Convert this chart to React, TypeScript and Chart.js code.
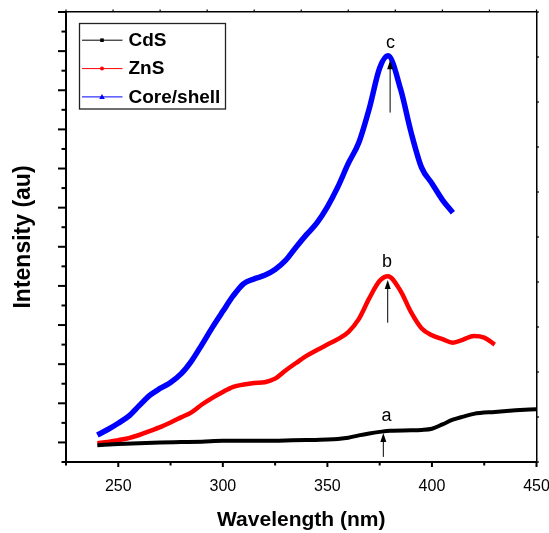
import React, { useEffect, useRef } from 'react';
import { Chart, registerables } from 'chart.js';

Chart.register(...registerables);

const FONT = '"Liberation Sans", Arial, Helvetica, sans-serif';

// ---- data ----
const seriesLabels = ['CdS', 'ZnS', 'Core/shell'];

const cdsX = [240, 250, 260, 270, 280, 290, 300, 310, 320, 330, 340, 350, 355, 360, 365, 370, 375, 380, 390, 395, 400, 405, 410, 415, 420, 430, 440, 450];
const cdsY = [-0.07, -0.04, -0.02, 0.0, 0.01, 0.02, 0.04, 0.04, 0.04, 0.05, 0.06, 0.075, 0.09, 0.12, 0.18, 0.23, 0.27, 0.30, 0.31, 0.32, 0.35, 0.46, 0.58, 0.66, 0.73, 0.78, 0.82, 0.85];

const znsX = [240, 245, 250, 255, 260, 265, 270, 275, 280, 285, 290, 295, 300, 305, 310, 315, 320, 325, 330, 335, 340, 345, 350, 355, 360, 365, 370, 375, 379, 385, 390, 395, 400, 405, 410, 415, 420, 425, 430];
const znsY = [-0.02, 0.01, 0.06, 0.11, 0.19, 0.29, 0.39, 0.51, 0.64, 0.77, 0.97, 1.14, 1.29, 1.42, 1.48, 1.52, 1.54, 1.63, 1.84, 2.03, 2.21, 2.36, 2.5, 2.64, 2.82, 3.15, 3.68, 4.13, 4.25, 3.87, 3.33, 2.92, 2.74, 2.64, 2.55, 2.63, 2.72, 2.68, 2.5];

const coreX = [240, 245, 250, 255, 260, 265, 270, 275, 280, 285, 290, 295, 300, 305, 310, 315, 320, 325, 330, 335, 340, 345, 350, 355, 360, 365, 370, 375, 379, 385, 390, 395, 400, 405, 410];
const coreY = [0.19, 0.33, 0.49, 0.67, 0.94, 1.2, 1.38, 1.53, 1.75, 2.08, 2.5, 2.94, 3.35, 3.75, 4.06, 4.18, 4.27, 4.42, 4.65, 4.99, 5.31, 5.61, 6.02, 6.53, 7.13, 7.66, 8.53, 9.57, 9.88, 9.03, 7.93, 7.03, 6.62, 6.2, 5.87];

const xTickLabels = [250, 300, 350, 400, 450];

const noteLabels = ['a', 'b', 'c'];
const noteX = [378.3, 378.5, 380.2];
const noteY = [0.55, 4.48, 10.07];
const arrowX = [376.75, 378.85, 380];
const arrowFrom = [-0.37, 3.06, 8.43];
const arrowTo = [0.24, 4.15, 9.77];

const toPoints = (xs: number[], ys: number[]) => xs.map((x, i) => ({ x, y: ys[i] }));

const tickPlugin = {
  id: 'customTicks',
  afterDraw(chart: any) {
    const ctx = chart.ctx;
    const { x, y, x2, y2 } = chart.scales;
    const a = chart.chartArea;
    ctx.save();
    ctx.strokeStyle = '#000';
    // left ticks
    ctx.lineWidth = 2;
    y.ticks.forEach((t: any) => {
      const py = y.getPixelForValue(t.value);
      const len = Number.isInteger(t.value) ? 8 : 4.5;
      ctx.beginPath();
      ctx.moveTo(a.left, py);
      ctx.lineTo(a.left - len, py);
      ctx.stroke();
    });
    // bottom ticks
    x.ticks.forEach((t: any) => {
      const px = x.getPixelForValue(t.value);
      const len = t.value % 50 === 0 ? 5 : 3.5;
      ctx.beginPath();
      ctx.moveTo(px, a.bottom);
      ctx.lineTo(px, a.bottom + len);
      ctx.stroke();
    });
    // top ticks
    ctx.lineWidth = 1.2;
    x2.ticks.forEach((t: any) => {
      const px = x2.getPixelForValue(t.value);
      ctx.beginPath();
      ctx.moveTo(px, a.top);
      ctx.lineTo(px, a.top - 2.5);
      ctx.stroke();
    });
    // right ticks
    y2.ticks.forEach((t: any) => {
      const py = y2.getPixelForValue(t.value);
      ctx.beginPath();
      ctx.moveTo(a.right, py);
      ctx.lineTo(a.right + 2.5, py);
      ctx.stroke();
    });
    ctx.restore();
  },
};

const notePlugin = {
  id: 'notes',
  afterDatasetsDraw(chart: any) {
    const ctx = chart.ctx;
    const { x, y } = chart.scales;
    ctx.save();
    ctx.strokeStyle = '#000';
    ctx.fillStyle = '#000';
    ctx.lineWidth = 1;
    arrowX.forEach((ax, i) => {
      const px = x.getPixelForValue(ax);
      const p0 = y.getPixelForValue(arrowFrom[i]);
      const p1 = y.getPixelForValue(arrowTo[i]);
      ctx.beginPath();
      ctx.moveTo(px, p0);
      ctx.lineTo(px, p1 + 6);
      ctx.stroke();
      ctx.beginPath();
      ctx.moveTo(px, p1);
      ctx.lineTo(px - 3, p1 + 9);
      ctx.lineTo(px + 3, p1 + 9);
      ctx.closePath();
      ctx.fill();
    });
    ctx.font = `18px ${FONT}`;
    ctx.textAlign = 'center';
    ctx.textBaseline = 'alphabetic';
    noteLabels.forEach((lab, i) => {
      ctx.fillText(lab, x.getPixelForValue(noteX[i]), y.getPixelForValue(noteY[i]));
    });
    ctx.restore();
  },
};

const legendPlugin = {
  id: 'boxLegend',
  afterDraw(chart: any) {
    const ctx = chart.ctx;
    const a = chart.chartArea;
    const bx = a.left + 13.5;
    const by = a.top + 11.5;
    const bw = 146;
    const bh = 85.5;
    ctx.save();
    ctx.strokeStyle = '#222';
    ctx.lineWidth = 1.3;
    ctx.strokeRect(bx, by, bw, bh);
    const rows = [28.2, 56.6, 84.9];
    chart.data.datasets.forEach((ds: any, i: number) => {
      const ry = a.top + rows[i];
      ctx.strokeStyle = ds.borderColor;
      ctx.fillStyle = ds.borderColor;
      ctx.lineWidth = 1;
      ctx.beginPath();
      ctx.moveTo(bx + 2.5, ry);
      ctx.lineTo(bx + 43, ry);
      ctx.stroke();
      const mx = bx + 22.5;
      ctx.beginPath();
      if (i === 0) {
        ctx.rect(mx - 1.8, ry - 1.8, 3.6, 3.6);
      } else if (i === 1) {
        ctx.arc(mx, ry, 2, 0, Math.PI * 2);
      } else {
        ctx.moveTo(mx, ry - 2.8);
        ctx.lineTo(mx - 2.8, ry + 2);
        ctx.lineTo(mx + 2.8, ry + 2);
        ctx.closePath();
      }
      ctx.fill();
      ctx.fillStyle = '#000';
      ctx.font = `bold 19px ${FONT}`;
      ctx.textAlign = 'left';
      ctx.textBaseline = 'middle';
      ctx.fillText(ds.label, bx + 49, ry + 0.5);
    });
    ctx.restore();
  },
};

export default function App() {
  const ref = useRef<HTMLCanvasElement | null>(null);

  useEffect(() => {
    if (!ref.current) return;
    const colors = ['#000000', '#ff0000', '#0000ff'];
    const widths = [4, 4.5, 5.5];
    const sets = [toPoints(cdsX, cdsY), toPoints(znsX, znsY), toPoints(coreX, coreY)];
    const chart = new Chart(ref.current, {
      type: 'line',
      data: {
        datasets: sets.map((d, i) => ({
          label: seriesLabels[i],
          data: d,
          borderColor: colors[i],
          backgroundColor: colors[i],
          borderWidth: widths[i],
          pointRadius: 0,
          cubicInterpolationMode: 'monotone' as const,
          fill: false,
          xAxisID: 'x',
          yAxisID: 'y',
        })),
      },
      options: {
        responsive: false,
        animation: false,
        devicePixelRatio: 1,
        layout: { padding: 0 },
        plugins: { legend: { display: false }, tooltip: { enabled: false } },
        scales: {
          x: {
            type: 'linear',
            position: 'bottom',
            min: 225,
            max: 450,
            ticks: {
              stepSize: 25,
              autoSkip: false,
              maxRotation: 0,
              padding: 10,
              color: '#000',
              font: { family: FONT, size: 16 },
              callback: (v: any) => (xTickLabels.includes(Number(v)) ? String(v) : ''),
            },
            grid: { display: false, drawTicks: true, tickLength: 5 },
            border: { display: true, color: '#000', width: 2 },
            title: {
              display: true,
              text: 'Wavelength (nm)',
              color: '#000',
              font: { family: FONT, size: 21, weight: 'bold' },
              padding: { top: 0, bottom: 0 },
            },
            afterFit: (s: any) => {
              s.height = 71;
              s.paddingLeft = 0;
              s.paddingRight = 0;
            },
          },
          x2: {
            type: 'linear',
            position: 'top',
            min: 0,
            max: 10,
            ticks: { stepSize: 1, display: false },
            grid: { display: false, drawTicks: false },
            border: { display: true, color: '#000', width: 1.5 },
            afterFit: (s: any) => {
              s.height = 12;
              s.paddingLeft = 0;
              s.paddingRight = 0;
            },
          },
          y: {
            type: 'linear',
            position: 'left',
            min: -0.5,
            max: 11,
            ticks: { stepSize: 0.5, display: false },
            grid: { display: false, drawTicks: false },
            border: { display: true, color: '#000', width: 2 },
            title: {
              display: true,
              text: 'Intensity (au)',
              color: '#000',
              font: { family: FONT, size: 23, weight: 'bold' },
              padding: { top: 10, bottom: 0 },
            },
            afterFit: (s: any) => {
              s.width = 66;
              s.paddingTop = 0;
              s.paddingBottom = 0;
            },
          },
          y2: {
            type: 'linear',
            position: 'right',
            min: 0,
            max: 10,
            ticks: { stepSize: 1, display: false },
            grid: { display: false, drawTicks: false },
            border: { display: true, color: '#000', width: 1.5 },
            afterFit: (s: any) => {
              s.width = 12.5;
              s.paddingTop = 0;
              s.paddingBottom = 0;
            },
          },
        },
      },
      plugins: [notePlugin, tickPlugin, legendPlugin],
    } as any);
    return () => chart.destroy();
  }, []);

  return (
    <div style={{ position: 'fixed', left: 0, top: 0, width: 549, height: 533, background: '#fff' }}>
      <canvas ref={ref} width={549} height={533} />
    </div>
  );
}
